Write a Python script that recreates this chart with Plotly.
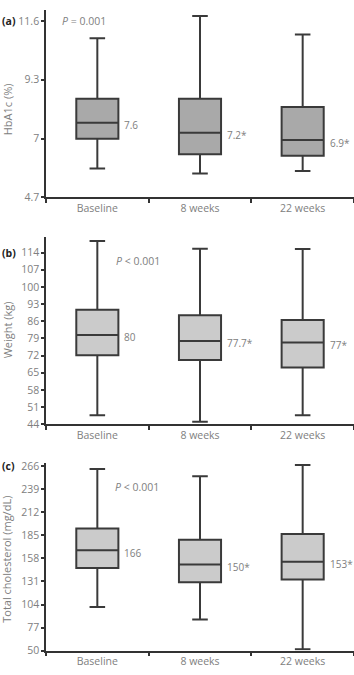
import plotly.graph_objects as go

categories = ["Baseline", "8 weeks", "22 weeks"]

# Panel (a) HbA1c (%)
hba1c_low = [5.83, 5.64, 5.74]
hba1c_q1 = [7.0, 6.39, 6.33]
hba1c_med = [7.62, 7.23, 6.95]
hba1c_q3 = [8.56, 8.56, 8.24]
hba1c_high = [10.92, 11.79, 11.07]
hba1c_labels = ["7.6", "7.2*", "6.9*"]
hba1c_label_vals = [7.6, 7.2, 6.9]
hba1c_ticks = [4.7, 7, 9.3, 11.6]
hba1c_p = "<i>P</i> = 0.001"

# Panel (b) Weight (kg)
weight_low = [47.7, 45.1, 47.7]
weight_q1 = [72.1, 70.2, 67.2]
weight_med = [80.4, 78.0, 77.3]
weight_q3 = [90.7, 88.5, 86.5]
weight_high = [118.7, 115.5, 115.4]
weight_labels = ["80", "77.7*", "77*"]
weight_label_vals = [80, 77.7, 77]
weight_ticks = [44, 51, 58, 65, 72, 79, 86, 93, 100, 107, 114]
weight_p = "<i>P</i> < 0.001"

# Panel (c) Total cholesterol (mg/dL)
chol_low = [101, 86.4, 51.5]
chol_q1 = [146.8, 130.2, 133.4]
chol_med = [167.5, 151, 154]
chol_q3 = [193, 179.8, 186.8]
chol_high = [262.9, 254.5, 267.5]
chol_labels = ["166", "150*", "153*"]
chol_label_vals = [166, 150, 153]
chol_ticks = [50, 77, 104, 131, 158, 185, 212, 239, 266]
chol_p = "<i>P</i> < 0.001"

W, H = 354, 675
FONT = "Open Sans"
GRAY = "#808080"
DARK = "#3a3a3a"

def py(px):
    return 1 - px / H

panels = [
    dict(low=hba1c_low, q1=hba1c_q1, med=hba1c_med, q3=hba1c_q3, high=hba1c_high,
         labels=hba1c_labels, lv=hba1c_label_vals, ticks=hba1c_ticks, rng=[4.7, 12.03],
         dom=[py(196.7), py(6)], fill="#a9a9a9", title="HbA1c (%)", tcy=107,
         p=hba1c_p, px=60, pyy=17.3, tag="(a)", tagy=17.3),
    dict(low=weight_low, q1=weight_q1, med=weight_med, q3=weight_q3, high=weight_high,
         labels=weight_labels, lv=weight_label_vals, ticks=weight_ticks, rng=[44, 120.4],
         dom=[py(427.3), py(236.7)], fill="#cbcbcb", title="Weight (kg)", tcy=331.7,
         p=weight_p, px=114, pyy=261, tag="(b)", tagy=252.7),
    dict(low=chol_low, q1=chol_q1, med=chol_med, q3=chol_q3, high=chol_high,
         labels=chol_labels, lv=chol_label_vals, ticks=chol_ticks, rng=[50, 269.8],
         dom=[py(657.3), py(466.7)], fill="#cbcbcb", title="Total cholesterol (mg/dL)", tcy=565,
         p=chol_p, px=113, pyy=491, tag="(c)", tagy=470),
]

fig = go.Figure()
annotations = []
layout = {}
for i, p in enumerate(panels):
    n = "" if i == 0 else str(i + 1)
    xa, ya = "x" + n, "y" + n
    fig.add_trace(go.Box(
        x=categories, q1=p["q1"], median=p["med"], q3=p["q3"],
        lowerfence=p["low"], upperfence=p["high"],
        boxpoints=False, width=0.41, whiskerwidth=0.37,
        fillcolor=p["fill"], line=dict(color=DARK, width=2),
        xaxis=xa, yaxis=ya, showlegend=False, hoverinfo="skip",
    ))
    layout["xaxis" + n] = dict(
        domain=[46 / W, 1.0], anchor=ya, type="category",
        categoryorder="array", categoryarray=categories,
        range=[-0.5, 2.5], showline=True, linecolor="#333", linewidth=1.5,
        ticks="outside", tickson="boundaries", ticklen=4, tickcolor="#333", tickwidth=1.5,
        tickfont=dict(family=FONT, size=10.5, color=GRAY), showgrid=False, zeroline=False,
    )
    layout["yaxis" + n] = dict(
        domain=p["dom"], anchor=xa, range=p["rng"], tickvals=p["ticks"],
        showline=True, linecolor="#333", linewidth=1.5,
        ticks="outside", ticklen=3, tickcolor="#333", tickwidth=1.5,
        tickfont=dict(family=FONT, size=10.5, color=GRAY), showgrid=False, zeroline=False,
    )
    for c, lab, v in zip(categories, p["labels"], p["lv"]):
        annotations.append(dict(
            x=c, y=v, xref=xa, yref=ya, text=lab, showarrow=False,
            xanchor="left", yanchor="middle", xshift=25, yshift=-1.5,
            font=dict(family=FONT, size=10, color=GRAY),
        ))
    annotations.append(dict(
        x=p["px"] / W, y=py(p["pyy"]), xref="paper", yref="paper", text=p["p"],
        showarrow=False, xanchor="left", yanchor="middle",
        font=dict(family=FONT, size=10.5, color=GRAY),
    ))
    annotations.append(dict(
        x=0, y=py(p["tagy"]), xref="paper", yref="paper", text="<b>" + p["tag"] + "</b>",
        showarrow=False, xanchor="left", yanchor="middle",
        font=dict(family=FONT, size=10.5, color="#222"),
    ))
    annotations.append(dict(
        x=7 / W, y=py(p["tcy"]), xref="paper", yref="paper", text=p["title"],
        showarrow=False, xanchor="center", yanchor="middle", textangle=-90,
        font=dict(family=FONT, size=11, color=GRAY),
    ))

fig.update_layout(
    width=W, height=H, margin=dict(l=0, r=0, t=0, b=0),
    paper_bgcolor="white", plot_bgcolor="white",
    annotations=annotations, **layout,
)
fig.write_html("out.html")
